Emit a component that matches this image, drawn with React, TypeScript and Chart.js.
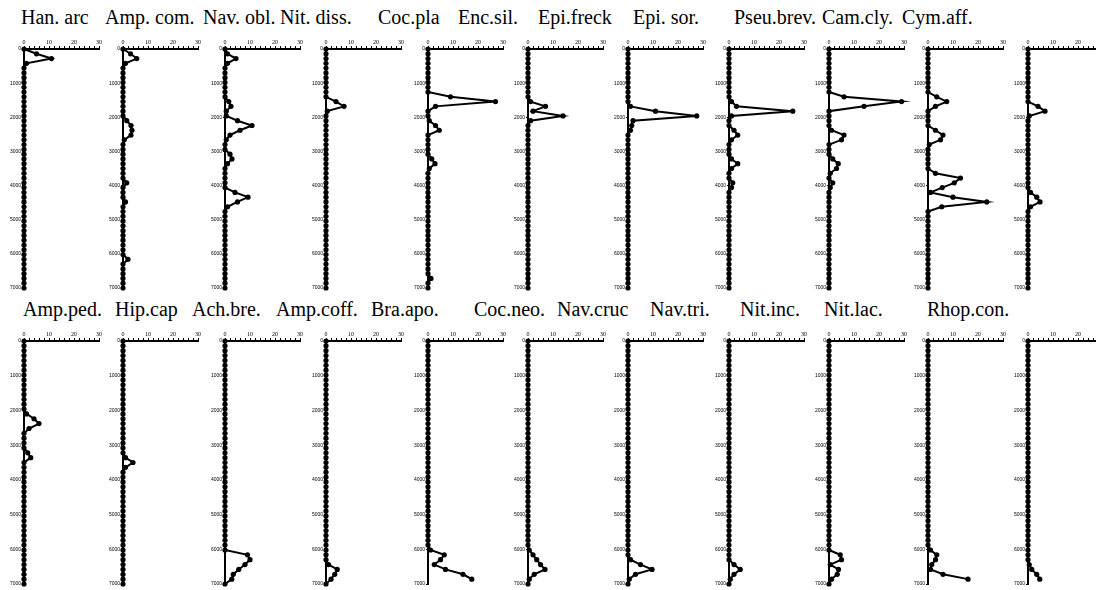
import React, { useEffect, useRef } from "react";
import { Chart, registerables } from "chart.js";

Chart.register(...registerables);

// Sample depths (shared by every panel)
const depths = [
  0, 140, 280, 420, 560, 700, 840, 980, 1120, 1260,
  1400, 1540, 1680, 1820, 1960, 2100, 2240, 2380, 2520, 2660,
  2800, 2940, 3080, 3220, 3360, 3500, 3640, 3780, 3920, 4060,
  4200, 4340, 4480, 4620, 4760, 4900, 5040, 5180, 5320, 5460,
  5600, 5740, 5880, 6020, 6160, 6300, 6440, 6580, 6720, 6860,
  7000,
];

const depthTicks = [0, 1000, 2000, 3000, 4000, 5000, 6000, 7000];
const abundanceMax = 30;

// ---- Row 1 series ----
const hanArc = [
  0, 5, 11, 1, 0, 0, 0, 0, 0, 0,
  0, 0, 0, 0, 0, 0, 0, 0, 0, 0,
  0, 0, 0, 0, 0, 0, 0, 0, 0, 0,
  0, 0, 0, 0, 0, 0, 0, 0, 0, 0,
  0, 0, 0, 0, 0, 0, 0, 0, 0, 0,
  0,
];
const ampCom = [
  0, 3, 5.5, 1, 0, 0, 0, 0, 0, 0,
  0, 0, 0, 0, 0, 1.5, 3.2, 3.6, 3.2, 0.5,
  0, 0, 0, 0, 0, 0, 0, 0, 1.5, 0,
  0, 0, 1, 0, 0, 0, 0, 0, 0, 0,
  0, 0, 0, 0, 2, 0, 0, 0, 0, 0,
  0,
];
const navObl = [
  0, 1, 4.4, 1, 0, 0, 0, 0, 0, 0,
  0, 1.5, 2.4, 0.5, 0.5, 5, 10.8, 6, 2, 0.5,
  0, 0, 2, 2.8, 1, 0, 0, 0, 0, 0,
  4, 9.2, 5, 1, 0, 0, 0, 0, 0, 0,
  0, 0, 0, 0, 0, 0, 0, 0, 0, 0,
  0,
];
const nitDiss = [
  0, 0, 0, 0, 0, 0, 0, 0, 0, 0,
  0, 4, 7.2, 0.5, 0, 0, 0, 0, 0, 0,
  0, 0, 0, 0, 0, 0, 0, 0, 0, 0,
  0, 0, 0, 0, 0, 0, 0, 0, 0, 0,
  0, 0, 0, 0, 0, 0, 0, 0, 0, 0,
  0,
];
const cocPla = [
  0, 0, 0, 0, 0, 0, 0, 0, 0, 0,
  9, 27, 3, 0, 0, 0.5, 3, 4.5, 0, 0,
  0, 0, 0, 1.5, 2.8, 0.5, 0, 0, 0, 0,
  0, 0, 0, 0, 0, 0, 0, 0, 0, 0,
  0, 0, 0, 0, 0, 0, 0, 0, 1.2, 0,
  0,
];
const encSil = [
  0, 0, 0, 0, 0, 0, 0, 0, 0, 0,
  0, 1, 7, 2, 14, 1, 0, 0, 0, 0,
  0, 0, 0, 0, 0, 0, 0, 0, 0, 0,
  0, 0, 0, 0, 0, 0, 0, 0, 0, 0,
  0, 0, 0, 0, 0, 0, 0, 0, 0, 0,
  0,
];
const epiFreck = [
  0, 0, 0, 0, 0, 0, 0, 0, 0, 0,
  0, 0, 1, 11, 27.5, 2, 1.5, 1, 0, 0,
  0, 0, 0, 0, 0, 0, 0, 0, 0, 0,
  0, 0, 0, 0, 0, 0, 0, 0, 0, 0,
  0, 0, 0, 0, 0, 0, 0, 0, 0, 0,
  0,
];
const epiSor = [
  0, 0, 0, 0, 0, 0, 0, 0, 0, 0,
  0, 1, 3, 25.5, 1, 0, 0, 2, 3.5, 1,
  0, 0, 0, 1, 3.5, 1, 0, 0, 1.5, 1,
  0, 0, 0, 0, 0, 0, 0, 0, 0, 0,
  0, 0, 0, 0, 0, 0, 0, 0, 0, 0,
  0,
];
const pseuBrev = [
  0, 0, 0, 0, 0, 0, 0, 0, 0, 0,
  6, 29, 14, 0, 0, 0, 0, 1, 6, 5,
  0, 0, 0, 1.5, 3.7, 3, 0.5, 0, 1.5, 0.5,
  0, 0, 0, 0, 0, 0, 0, 0, 0, 0,
  0, 0, 0, 0, 0, 0, 0, 0, 0, 0,
  0,
];
const camCly = [
  0, 0, 0, 0, 0, 0, 0, 0, 0, 0,
  3.5, 7.5, 3, 0, 0, 0, 0, 3, 6, 5,
  0.5, 0, 0, 0, 0, 0, 3, 13, 10.5, 5.7,
  1, 10, 23.5, 5.5, 0, 0, 0, 0, 0, 0,
  0, 0, 0, 0, 0, 0, 0, 0, 0, 0,
  0,
];
const cymAff = [
  0, 0, 0, 0, 0, 0, 0, 0, 0, 0,
  0, 0, 4, 6.8, 0.5, 0, 0, 0, 0, 0,
  0, 0, 0, 0, 0, 0, 0, 0, 0, 0,
  1, 3.5, 4.8, 1, 0, 0, 0, 0, 0, 0,
  0, 0, 0, 0, 0, 0, 0, 0, 0, 0,
  0,
];

// ---- Row 2 series ----
const ampPed = [
  0, 0, 0, 0, 0, 0, 0, 0, 0, 0,
  0, 0, 0, 0, 0, 1, 4, 6, 2, 0,
  0, 0, 0, 1.5, 2.7, 0, 0, 0, 0, 0,
  0, 0, 0, 0, 0, 0, 0, 0, 0, 0,
  0, 0, 0, 0, 0, 0, 0, 0, 0, 0,
  0,
];
const hipCap = [
  0, 0, 0, 0, 0, 0, 0, 0, 0, 0,
  0, 0, 0, 0, 0, 0, 0, 0, 0, 0,
  0, 0, 0, 0, 1, 4, 1, 0, 0, 0,
  0, 0, 0, 0, 0, 0, 0, 0, 0, 0,
  0, 0, 0, 0, 0, 0, 0, 0, 0, 0,
  0,
];
const achBre = [
  0, 0, 0, 0, 0, 0, 0, 0, 0, 0,
  0, 0, 0, 0, 0, 0, 0, 0, 0, 0,
  0, 0, 0, 0, 0, 0, 0, 0, 0, 0,
  0, 0, 0, 0, 0, 0, 0, 0, 0, 0,
  0, 0, 0, 0, 9, 10, 8, 5.5, 3.3, 2.7,
  0,
];
const ampCoff = [
  0, 0, 0, 0, 0, 0, 0, 0, 0, 0,
  0, 0, 0, 0, 0, 0, 0, 0, 0, 0,
  0, 0, 0, 0, 0, 0, 0, 0, 0, 0,
  0, 0, 0, 0, 0, 0, 0, 0, 0, 0,
  0, 0, 0, 0, 0, 0, 1, 4.5, 3.5, 2,
  0,
];
const braApo = [
  0, 0, 0, 0, 0, 0, 0, 0, 0, 0,
  0, 0, 0, 0, 0, 0, 0, 0, 0, 0,
  0, 0, 0, 0, 0, 0, 0, 0, 0, 0,
  0, 0, 0, 0, 0, 0, 0, 0, 0, 0,
  0, 0, 0, 1, 6.5, 5, 2.5, 7, 14, 17.5,
  null,
];
const cocNeo = [
  0, 0, 0, 0, 0, 0, 0, 0, 0, 0,
  0, 0, 0, 0, 0, 0, 0, 0, 0, 0,
  0, 0, 0, 0, 0, 0, 0, 0, 0, 0,
  0, 0, 0, 0, 0, 0, 0, 0, 0, 0,
  0, 0, 0, 0.5, 2, 3.5, 5, 6.8, 2.5, 0.5,
  0,
];
const navCruc = [
  0, 0, 0, 0, 0, 0, 0, 0, 0, 0,
  0, 0, 0, 0, 0, 0, 0, 0, 0, 0,
  0, 0, 0, 0, 0, 0, 0, 0, 0, 0,
  0, 0, 0, 0, 0, 0, 0, 0, 0, 0,
  0, 0, 0, 0, 0, 1, 5, 9.6, 3, 0.5,
  0,
];
const navTri = [
  0, 0, 0, 0, 0, 0, 0, 0, 0, 0,
  0, 0, 0, 0, 0, 0, 0, 0, 0, 0,
  0, 0, 0, 0, 0, 0, 0, 0, 0, 0,
  0, 0, 0, 0, 0, 0, 0, 0, 0, 0,
  0, 0, 0, 0, 0, 0, 2, 4.5, 2, 0.5,
  0,
];
const nitInc = [
  0, 0, 0, 0, 0, 0, 0, 0, 0, 0,
  0, 0, 0, 0, 0, 0, 0, 0, 0, 0,
  0, 0, 0, 0, 0, 0, 0, 0, 0, 0,
  0, 0, 0, 0, 0, 0, 0, 0, 0, 0,
  0, 0, 0, 0, 4.5, 5, 0.5, 3.8, 3.3, 1,
  0,
];
const nitLac = [
  0, 0, 0, 0, 0, 0, 0, 0, 0, 0,
  0, 0, 0, 0, 0, 0, 0, 0, 0, 0,
  0, 0, 0, 0, 0, 0, 0, 0, 0, 0,
  0, 0, 0, 0, 0, 0, 0, 0, 0, 0,
  0, 0, 0, 1, 3.5, 3, 1.5, 1, 6, 16,
  null,
];
const rhopCon = [
  0, 0, 0, 0, 0, 0, 0, 0, 0, 0,
  0, 0, 0, 0, 0, 0, 0, 0, 0, 0,
  0, 0, 0, 0, 0, 0, 0, 0, 0, 0,
  0, 0, 0, 0, 0, 0, 0, 0, 0, 0,
  0, 0, 0, 0, 0, 0, 0.5, 1.5, 3.5, 4.7,
  null,
];

const row1Names = ["Han. arc", "Amp. com.", "Nav. obl.", "Nit. diss.", "Coc.pla", "Enc.sil.", "Epi.freck", "Epi. sor.", "Pseu.brev.", "Cam.cly.", "Cym.aff."];
const row1Series = [hanArc, ampCom, navObl, nitDiss, cocPla, encSil, epiFreck, epiSor, pseuBrev, camCly, cymAff];
const row2Names = ["Amp.ped.", "Hip.cap", "Ach.bre.", "Amp.coff.", "Bra.apo.", "Coc.neo.", "Nav.cruc", "Nav.tri.", "Nit.inc.", "Nit.lac.", "Rhop.con."];
const row2Series = [ampPed, hipCap, achBre, ampCoff, braApo, cocNeo, navCruc, navTri, nitInc, nitLac, rhopCon];

// ---- layout ----
const panelAxisX = [24, 123, 225, 326, 428, 528, 628, 729, 829, 928, 1028];
const row1LabelX = [21, 105, 203, 280, 378, 458, 538, 633, 734, 822, 902];
const row2LabelX = [23, 115, 192, 276, 371, 474, 557, 650, 740, 824, 927];
const ROW1 = { top: 49, bottom: 288, labelTop: 7 };
const ROW2 = { top: 341, bottom: 584, labelTop: 299 };

const YW = 22;
const XH = 12;
const PW = 75;
const PR = 12;
const PB = 6;

function Panel(props: { name: string; values: (number | null)[]; axisX: number; top: number; bottom: number }) {
  const ref = useRef<HTMLCanvasElement>(null);
  const plotH = props.bottom - props.top;
  useEffect(() => {
    if (!ref.current) return;
    const pts = depths
      .map((d, i) => ({ x: props.values[i] as number | null, y: d }))
      .filter((p) => p.x !== null && p.x !== undefined);
    const chart = new Chart(ref.current, {
      type: "scatter",
      data: {
        datasets: [
          {
            label: props.name,
            data: pts as any,
            showLine: true,
            borderColor: "#000",
            backgroundColor: "#000",
            borderWidth: 2,
            pointRadius: 2.6,
            pointBorderWidth: 0,
            pointBackgroundColor: "#000",
            tension: 0,
            clip: false as any,
          },
        ],
      },
      options: {
        responsive: false,
        animation: false,
        devicePixelRatio: 1,
        layout: { padding: { left: 0, top: 0, right: PR, bottom: PB } },
        plugins: { legend: { display: false }, tooltip: { enabled: false } },
        scales: {
          x: {
            type: "linear",
            position: "top",
            min: 0,
            max: abundanceMax,
            ticks: {
              stepSize: 2,
              autoSkip: false,
              maxRotation: 0,
              padding: 0,
              color: "#000",
              font: { size: 6, family: "Liberation Serif" },
              callback: (v: any) => (Number(v) % 10 === 0 ? String(v) : ""),
            },
            grid: { drawOnChartArea: false, drawTicks: true, tickLength: 3, color: "#000", lineWidth: 1 },
            border: { display: true, color: "#000", width: 2 },
            afterFit: (s: any) => {
              s.height = XH;
              s.paddingLeft = 0;
              s.paddingRight = 0;
            },
          },
          y: {
            type: "linear",
            reverse: true,
            min: 0,
            max: depthTicks[depthTicks.length - 1],
            afterBuildTicks: (s: any) => {
              s.ticks = depthTicks.map((v) => ({ value: v }));
            },
            ticks: {
              autoSkip: false,
              padding: 1,
              color: "#000",
              font: { size: 5, family: "Liberation Sans" },
              callback: (v: any) => String(v),
            },
            grid: { drawOnChartArea: false, drawTicks: true, tickLength: 2, color: "#000", lineWidth: 1 },
            border: { display: true, color: "#000", width: 2 },
            afterFit: (s: any) => {
              s.width = YW;
              s.paddingTop = 0;
              s.paddingBottom = 0;
            },
          },
        },
      } as any,
    });
    return () => chart.destroy();
  }, []);
  return (
    <canvas
      ref={ref}
      width={YW + PW + PR}
      height={XH + plotH + PB}
      style={{ position: "absolute", left: props.axisX - YW, top: props.top - XH, display: "block" }}
    />
  );
}

const labelStyle: React.CSSProperties = {
  position: "absolute",
  fontFamily: "'Liberation Serif', 'Times New Roman', serif",
  fontSize: 20,
  lineHeight: "20px",
  color: "#000",
  whiteSpace: "nowrap",
};

export default function App() {
  return (
    <div
      style={{
        position: "fixed",
        left: 0,
        top: 0,
        width: 1096,
        height: 590,
        overflow: "hidden",
        background: "#fff",
      }}
    >
      {row1Names.map((n, i) => (
        <div key={"l1" + i} style={{ ...labelStyle, left: row1LabelX[i], top: ROW1.labelTop }}>
          {n}
        </div>
      ))}
      {row2Names.map((n, i) => (
        <div key={"l2" + i} style={{ ...labelStyle, left: row2LabelX[i], top: ROW2.labelTop }}>
          {n}
        </div>
      ))}
      {row1Series.map((s, i) => (
        <Panel key={"p1" + i} name={row1Names[i]} values={s} axisX={panelAxisX[i]} top={ROW1.top} bottom={ROW1.bottom} />
      ))}
      {row2Series.map((s, i) => (
        <Panel key={"p2" + i} name={row2Names[i]} values={s} axisX={panelAxisX[i]} top={ROW2.top} bottom={ROW2.bottom} />
      ))}
    </div>
  );
}
